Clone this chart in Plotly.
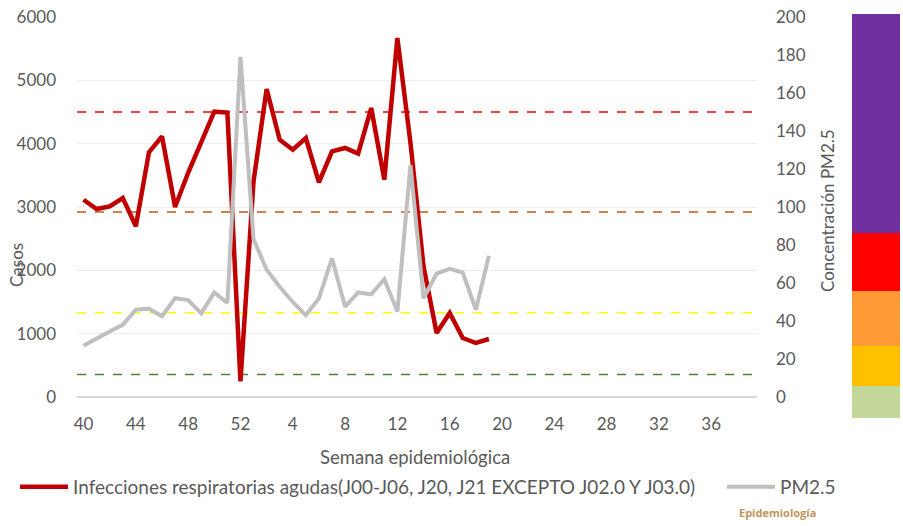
import plotly.graph_objects as go

# Semanas epidemiológicas (40-52 de un año, 1-39 del siguiente)
weeks = [str(w) for w in range(40, 53)] + [str(w) for w in range(1, 40)]
tick_weeks = ["40", "44", "48", "52", "4", "8", "12", "16", "20", "24", "28", "32", "36"]

# Casos de IRA (eje izquierdo), semana 40 a semana 19
ira_cases = [3115, 2968, 3010, 3142, 2694, 3862, 4115, 3000, 3540, 4040, 4505, 4490,
             246, 3404, 4863, 4062, 3905, 4089, 3389, 3878, 3932, 3842, 4563, 3431,
             5669, 4013, 2062, 1010, 1326, 931, 853, 916]

# Concentración PM2.5 (eje derecho)
pm25 = [27, 31, 34.5, 38, 46, 46.5, 42.5, 52, 51, 44, 55, 49.5,
        179, 83, 67, 58, 50, 43, 52, 73, 47.5, 55, 54, 62,
        45, 122, 52, 65, 67.5, 65.5, 46, 74.3]

# Umbrales (líneas punteadas, en unidades del eje izquierdo)
thresholds = [4500, 2920, 1330, 355]
threshold_colors = ["#FF0000", "#C55A11", "#FFFF00", "#548235"]

# Barra de colores de calidad del aire (alturas relativas, de abajo hacia arriba)
band_heights = [31.7, 40, 55.7, 57.7, 219.3]
band_colors = ["#C4D79B", "#FFC000", "#FF9A35", "#FF0000", "#7030A0"]

FONT = "Lato"
TXT = "#595959"

W, H = 903, 526
L, R, T, B = 77, 0, 14, 108
PW, PH = W - L - R, H - T - B


def px(x):
    return (x - L) / PW


def py(y):
    return (H - B - y) / PH


fig = go.Figure()

fig.add_trace(go.Scatter(
    x=weeks[:len(pm25)], y=pm25, yaxis="y2", mode="lines", name="PM2.5",
    line=dict(color="#BFBFBF", width=4), legend="legend2",
))
fig.add_trace(go.Scatter(
    x=weeks[:len(ira_cases)], y=ira_cases, mode="lines",
    name="Infecciones respiratorias agudas(J00-J06, J20, J21 EXCEPTO J02.0 Y J03.0)",
    line=dict(color="#C00000", width=4.5), legend="legend",
))

for h, c in zip(band_heights, band_colors):
    fig.add_trace(go.Bar(
        x=[0], y=[h], xaxis="x3", yaxis="y3", marker=dict(color=c, line=dict(width=0)),
        showlegend=False, hoverinfo="skip",
    ))

shapes = []
for v, c in zip(thresholds, threshold_colors):
    shapes.append(dict(type="line", xref="x domain", x0=0, x1=1, yref="y", y0=v, y1=v,
                       line=dict(color=c, width=1.6, dash="dash"), layer="below"))

y_dom = [py(397), py(17)]
legend_style = dict(orientation="h", y=py(487), xanchor="left", yanchor="middle",
                    font=dict(size=19, color=TXT), bgcolor="rgba(0,0,0,0)", itemwidth=48)

fig.update_layout(
    width=W, height=H,
    margin=dict(l=L, r=R, t=T, b=B, autoexpand=False),
    paper_bgcolor="white", plot_bgcolor="white",
    font=dict(family=FONT, size=17, color=TXT),
    barmode="stack", bargap=0,
    showlegend=True,
    legend=dict(x=px(15), **legend_style),
    legend2=dict(x=px(722), **legend_style),
    xaxis=dict(domain=[0, px(757)], type="category", categoryorder="array",
               categoryarray=weeks, range=[-0.5, len(weeks) - 0.5],
               tickmode="array", tickvals=tick_weeks, ticktext=tick_weeks,
               showgrid=False, showline=False, zeroline=False, ticks="", automargin=False,
               ticklabelstandoff=15, tickfont=dict(size=17, color=TXT)),
    yaxis=dict(domain=y_dom, range=[0, 6000], dtick=1000, showgrid=True,
               gridcolor="#EDEDED", gridwidth=1, zeroline=True, zerolinecolor="#D9D9D9",
               zerolinewidth=1.5, showline=False, ticks="", ticklabelstandoff=20,
               automargin=False, tickfont=dict(size=17, color=TXT)),
    yaxis2=dict(domain=y_dom, overlaying="y", side="right", anchor="x", range=[0, 200],
                dtick=20, showgrid=False, zeroline=False, showline=False, ticks="",
                automargin=False, ticklabelstandoff=18, tickfont=dict(size=17, color=TXT)),
    xaxis3=dict(domain=[px(852), px(900)], anchor="y3", range=[-0.5, 0.5], visible=False),
    yaxis3=dict(domain=[0, 1], anchor="x3", range=[0, sum(band_heights)], visible=False),
    shapes=shapes,
    annotations=[
        dict(text="Semana epidemiológica", xref="paper", yref="paper", x=px(415), y=py(457),
             xanchor="center", yanchor="middle", showarrow=False,
             font=dict(size=18.5, color=TXT)),
        dict(text="Casos", xref="paper", yref="paper", x=px(16), y=py(265), textangle=-90,
             xanchor="center", yanchor="middle", showarrow=False,
             font=dict(size=17, color=TXT)),
        dict(text="Concentración PM2.5", xref="paper", yref="paper", x=px(827), y=py(211),
             textangle=-90, xanchor="center", yanchor="middle", showarrow=False,
             font=dict(size=17, color=TXT)),
        dict(text="<b>Epidemiología</b>", xref="paper", yref="paper", x=px(777), y=py(512),
             xanchor="center", yanchor="middle", showarrow=False,
             font=dict(size=11, color="#C0955A", family="Open Sans")),
    ],
)

# the page is photographed at the figure's exact size, so drop the default body margin
fig.write_html("out.html", config={"displayModeBar": False},
               post_script="document.body.style.margin='0';")
